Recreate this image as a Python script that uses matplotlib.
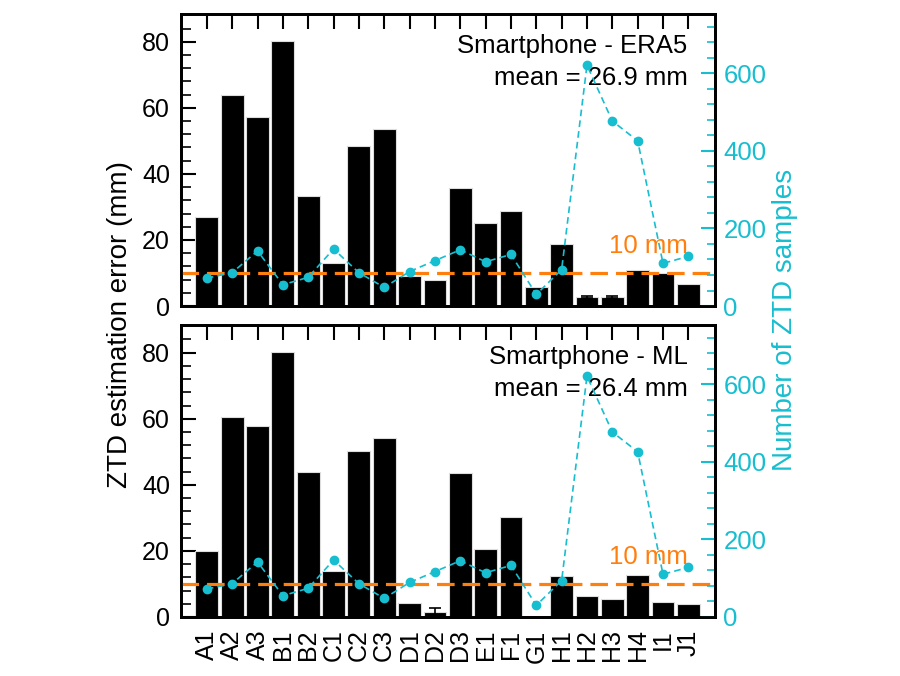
import numpy as np
import matplotlib.pyplot as plt
from matplotlib.ticker import MultipleLocator, AutoMinorLocator

plt.rcParams['font.family'] = ['Liberation Sans', 'DejaVu Sans']

# === Data ===
stations = ["A1", "A2", "A3", "B1", "B2", "C1", "C2", "C3", "D1", "D2",
            "D3", "E1", "F1", "G1", "H1", "H2", "H3", "H4", "I1", "J1"]

err_era5 = [26.8, 64.0, 57.2, 80.2, 33.2, 13.1, 48.5, 53.5, 9.0, 7.9,
            35.6, 25.0, 28.7, 5.9, 18.8, 2.8, 2.8, 10.9, 9.9, 6.6]
err_ml = [20.1, 60.4, 57.8, 80.1, 43.8, 14.0, 50.2, 54.2, 4.3, 1.4,
          43.5, 20.6, 30.2, 0.2, 12.5, 6.3, 5.5, 12.7, 4.5, 3.8]
# small visible error bars
yerr_era5 = [0, 0, 0, 0, 0, 0, 0, 0, 0, 0,
             0, 0, 0, 0, 0, 0.3, 0.3, 0, 0, 0]
yerr_ml = [0, 0, 0, 0, 0, 0, 0, 0, 0, 1.3,
           0, 0, 0, 0, 0, 0, 0, 0, 0, 0]

n_samples = [72, 86, 142, 55, 74, 147, 86, 48, 89, 117,
             145, 114, 133, 30, 94, 621, 477, 426, 110, 128]

panels = [("Smartphone - ERA5", 26.9, err_era5, yerr_era5),
          ("Smartphone - ML", 26.4, err_ml, yerr_ml)]

CYAN = '#17becf'
ORANGE = '#ff7f0e'

fig = plt.figure(figsize=(9, 6.76), dpi=100)
boxes = [[0.2011, 0.5473, 0.5933, 0.4320],
         [0.2011, 0.0873, 0.5933, 0.4320]]

x = np.arange(len(stations))

for k, (title, mean, err, yerr) in enumerate(panels):
    ax = fig.add_axes(boxes[k])
    ax.bar(x, err, width=0.9, color='black', edgecolor='#dddddd', linewidth=0.8, zorder=2)
    # error bars only where they show
    e = np.array(yerr)
    m = e > 0
    ax.errorbar(x[m], np.array(err)[m], yerr=e[m], fmt='none', ecolor='black',
                capsize=4, elinewidth=1.2, capthick=1.2, zorder=2)
    ax.axhline(10, color=ORANGE, lw=2.3, dashes=(5.5, 2.5), zorder=3)
    ax.text(0.949, 0.1825, "10 mm", color=ORANGE, fontsize=18.5,
            ha='right', va='baseline', transform=ax.transAxes, zorder=3)
    ax.text(0.949, 0.93, f"{title}\nmean = {mean} mm", fontsize=18.5,
            ha='right', va='top', multialignment='right', linespacing=1.4,
            transform=ax.transAxes, zorder=4)

    ax.set_xlim(-1.02, 20.05)
    ax.set_ylim(0, 88.4)
    ax.yaxis.set_major_locator(MultipleLocator(20))
    ax.yaxis.set_minor_locator(AutoMinorLocator(5))
    ax.set_xticks(x)
    ax.tick_params(axis='y', which='major', direction='in', length=11, width=1.5,
                   labelsize=18, pad=8, right=False)
    ax.tick_params(axis='y', which='minor', direction='in', length=7, width=1.2, right=False)
    ax.tick_params(axis='x', which='major', direction='in', length=11, width=1.5,
                   top=True, bottom=False, labelsize=18, pad=9,
                   labelbottom=(k == 1), labelrotation=90)
    if k == 1:
        ax.set_xticklabels(stations)
    for s in ax.spines.values():
        s.set_linewidth(2)

    ax2 = ax.twinx()
    ax2.plot(x, n_samples, color=CYAN, lw=1.2, ls=(0, (4, 2.5)), marker='o', ms=6)
    ax2.set_ylim(0, 753)
    ax2.yaxis.set_major_locator(MultipleLocator(200))
    ax2.yaxis.set_minor_locator(AutoMinorLocator(5))
    ax2.tick_params(axis='y', which='major', direction='in', length=10, width=1.5,
                    color=CYAN, labelcolor=CYAN, labelsize=18.5, pad=6)
    ax2.tick_params(axis='y', which='minor', direction='in', length=6, width=1.2, color=CYAN)
    for s in ax2.spines.values():
        s.set_linewidth(2)

fig.text(0.133, 0.52, "ZTD estimation error (mm)", rotation=90, fontsize=20,
         ha='center', va='center')
fig.text(0.872, 0.527, "Number of ZTD samples", rotation=90, fontsize=20,
         color=CYAN, ha='center', va='center')

fig.savefig('out.png', dpi=100)
